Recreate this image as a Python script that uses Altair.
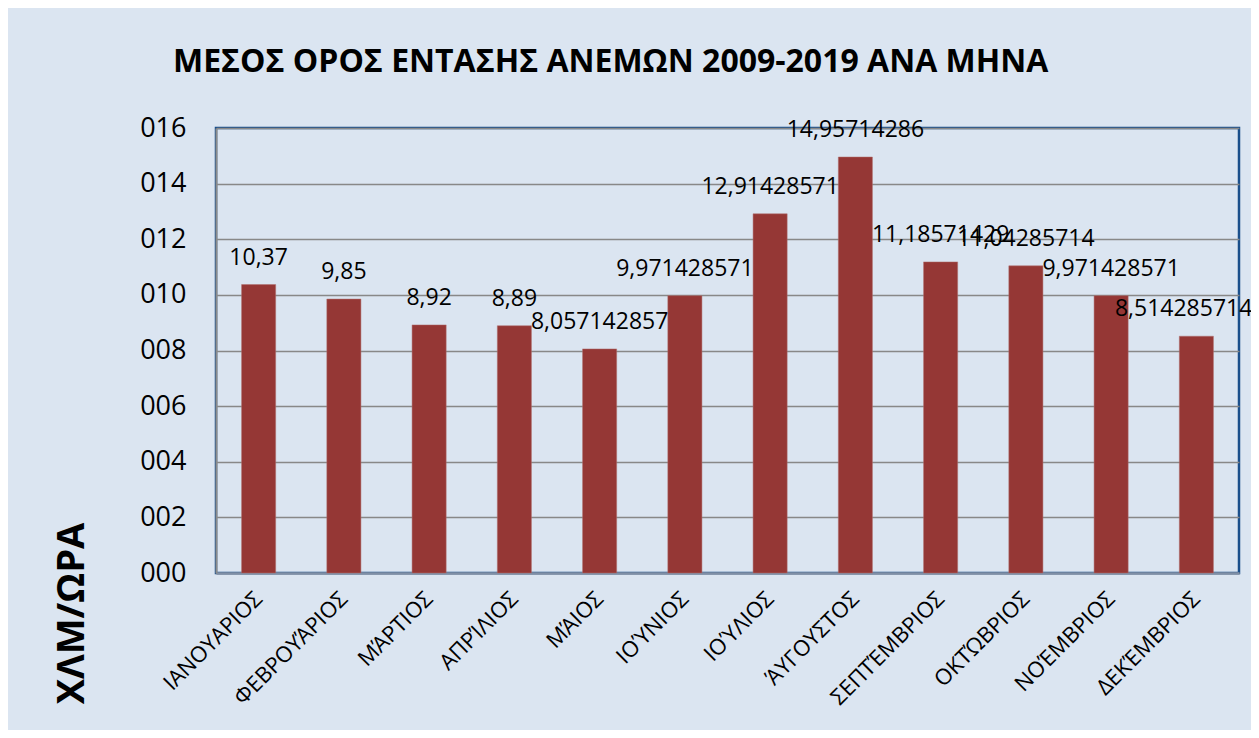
import altair as alt
import pandas as pd

months = ["ΙΑΝΟΥΑΡΙΟΣ", "ΦΕΒΡΟΥΆΡΙΟΣ", "ΜΆΡΤΙΟΣ", "ΑΠΡΊΛΙΟΣ", "ΜΆΙΟΣ", "ΙΟΎΝΙΟΣ",
          "ΙΟΎΛΙΟΣ", "ΆΥΓΟΥΣΤΟΣ", "ΣΕΠΤΈΜΒΡΙΟΣ", "ΟΚΤΏΒΡΙΟΣ", "ΝΟΈΜΒΡΙΟΣ", "ΔΕΚΈΜΒΡΙΟΣ"]
values = [10.37, 9.85, 8.92, 8.89, 8.057142857, 9.971428571,
          12.91428571, 14.95714286, 11.18571429, 11.04285714, 9.971428571, 8.514285714]
y_ticks = [0, 2, 4, 6, 8, 10, 12, 14, 16]

title_text = "ΜΕΣΟΣ ΟΡΟΣ ΕΝΤΑΣΗΣ ΑΝΕΜΩΝ 2009-2019 ΑΝΑ ΜΗΝΑ"
y_title = "ΧΛΜ/ΩΡΑ"

df = pd.DataFrame({
    "month": months,
    "value": values,
    "label": [str(v).replace(".", ",") for v in values],
})

FONT = "Open Sans"
BG = "#DBE5F1"
LAST = months[-1]

x_axis = alt.Axis(title=None, labelAngle=-45, labelAlign="right",
                  labelBaseline="middle", labelPadding=22,
                  labelFontSize=22, labelFont=FONT, labelColor="#000000",
                  ticks=False, domainColor="#7F8FA6", domainWidth=2.5,
                  labelLimit=300)
x_enc = alt.X("month:N", sort=months,
              scale=alt.Scale(paddingInner=0.6, paddingOuter=0.3),
              axis=x_axis)

y_axis = alt.Axis(title=y_title, values=y_ticks, format="03d",
                  labelFontSize=27, labelFont=FONT, labelColor="#000000",
                  labelPadding=30, ticks=False,
                  grid=True, gridColor="#888888", gridWidth=1.5,
                  domainColor="#8C8C8C", domainWidth=2,
                  titleFont=FONT, titleFontSize=38, titleFontWeight="bold",
                  titleColor="#000000", titleAngle=270,
                  titleX=-144, titleY=485,
                  titleAlign="center", titleBaseline="middle")
y_enc = alt.Y("value:Q", scale=alt.Scale(domain=[0, 16], nice=False), axis=y_axis)

bars = alt.Chart(df).mark_bar(color="#953735", stroke="#B0706E", strokeWidth=0.5).encode(
    x=x_enc, y=y_enc
)

labels = alt.Chart(df).transform_filter(
    alt.datum.month != LAST
).mark_text(
    font=FONT, fontSize=23, color="#000000", baseline="alphabetic", dy=-20
).encode(
    x=x_enc,
    y=y_enc,
    text="label:N",
)

# the last label sits against the right edge: keep it fully inside the canvas
last_label = alt.Chart(df).transform_filter(
    alt.datum.month == LAST
).mark_text(
    font=FONT, fontSize=23, color="#000000", baseline="alphabetic",
    align="right", dy=-20, dx=56
).encode(
    x=x_enc,
    y=y_enc,
    text="label:N",
)

chart = alt.layer(bars, labels, last_label).properties(
    width=1023,
    height=445,
    autosize=alt.AutoSizeParams(type="none"),
    padding={"left": 208, "top": 120, "right": 12, "bottom": 157},
    background=BG,
    title=alt.TitleParams(title_text, font=FONT, fontSize=32, fontWeight="bold",
                          color="#000000", anchor="start", frame="group", dx=-43,
                          offset=10, baseline="alphabetic"),
).configure_view(
    stroke="#1A4F8B", strokeWidth=2.5, fill=BG
)

chart.save("out.html", embed_options={"renderer": "svg", "actions": False})
